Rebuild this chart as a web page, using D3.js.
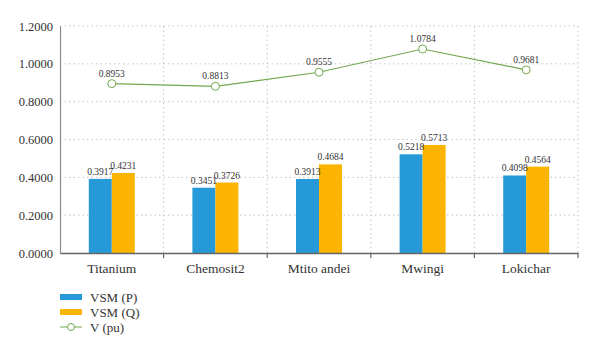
<!DOCTYPE html>
<html>
<head>
<meta charset="utf-8">
<script src="https://cdn.jsdelivr.net/npm/d3@7"></script>
<style>
  html, body { margin: 0; padding: 0; background: #fff; }
  svg { display: block; }
  svg text { font-family: "Liberation Serif", "DejaVu Serif", serif; }
</style>
</head>
<body>
<svg id="chart" width="600" height="356"></svg>
<script>
const categories = ["Titanium", "Chemosit2", "Mtito andei", "Mwingi", "Lokichar"];
const vsmP = [0.3917, 0.3451, 0.3913, 0.5218, 0.4098];
const vsmQ = [0.4231, 0.3726, 0.4684, 0.5713, 0.4564];
const vPu = [0.8953, 0.8813, 0.9555, 1.0784, 0.9681];
const yTicks = [0, 0.2, 0.4, 0.6, 0.8, 1.0, 1.2];
const seriesNames = ["VSM (P)", "VSM (Q)", "V (pu)"];

(function () {
const colors = { p: "#2699d8", q: "#fbb400", v: "#72a84f" };

const svg = d3.select("#chart");
const pLeft = 60, pRight = 578, pTop = 26, pBottom = 253;

const x = d3.scaleBand().domain(categories).range([pLeft, pRight]).paddingInner(0).paddingOuter(0);
const y = d3.scaleLinear().domain([0, 1.2]).range([pBottom, pTop]);
const barW = 23;

svg.append("g").selectAll("line").data(yTicks.slice(1)).join("line")
  .attr("x1", pLeft).attr("x2", pRight)
  .attr("y1", d => y(d)).attr("y2", d => y(d))
  .attr("stroke", "#c4c4c4").attr("stroke-width", 1).attr("stroke-dasharray", "1.5,3");

const bounds = categories.slice(1).map(c => x(c)).concat([pRight]);
svg.append("g").selectAll("line").data(bounds).join("line")
  .attr("x1", d => d).attr("x2", d => d)
  .attr("y1", pTop).attr("y2", pBottom)
  .attr("stroke", "#c4c4c4").attr("stroke-width", 1).attr("stroke-dasharray", "1.5,3");

const yAxis = svg.append("g").attr("transform", `translate(${pLeft},0)`)
  .call(d3.axisLeft(y).tickValues(yTicks).tickFormat(d3.format(".4f")).tickSize(0).tickPadding(7));
yAxis.attr("font-family", null);
yAxis.select(".domain").attr("stroke", "#8a8a8a").attr("stroke-width", 1.2);
yAxis.selectAll("text").attr("font-size", 12.5).attr("fill", "#333");

const g = svg.append("g");
g.selectAll("rect.p").data(categories).join("rect").attr("class", "p")
  .attr("x", d => x(d) + x.bandwidth() / 2 - barW)
  .attr("width", barW)
  .attr("y", (d, i) => y(vsmP[i]))
  .attr("height", (d, i) => y(0) - y(vsmP[i]))
  .attr("fill", colors.p);
g.selectAll("rect.q").data(categories).join("rect").attr("class", "q")
  .attr("x", d => x(d) + x.bandwidth() / 2)
  .attr("width", barW)
  .attr("y", (d, i) => y(vsmQ[i]))
  .attr("height", (d, i) => y(0) - y(vsmQ[i]))
  .attr("fill", colors.q);

g.selectAll("text.pl").data(categories).join("text").attr("class", "pl")
  .attr("x", d => x(d) + x.bandwidth() / 2 - barW / 2)
  .attr("y", (d, i) => y(vsmP[i]) - 4)
  .attr("text-anchor", "middle").attr("font-size", 9.5).attr("fill", "#333")
  .text((d, i) => vsmP[i].toFixed(4));
g.selectAll("text.ql").data(categories).join("text").attr("class", "ql")
  .attr("x", d => x(d) + x.bandwidth() / 2 + barW / 2)
  .attr("y", (d, i) => y(vsmQ[i]) - 4)
  .attr("text-anchor", "middle").attr("font-size", 9.5).attr("fill", "#333")
  .text((d, i) => vsmQ[i].toFixed(4));

const xAxis = svg.append("g").attr("transform", `translate(0,${pBottom})`)
  .call(d3.axisBottom(x).tickSize(0).tickPadding(10));
xAxis.attr("font-family", null);
xAxis.select(".domain").attr("stroke", "#666").attr("stroke-width", 1.5);
xAxis.selectAll("text").attr("font-size", 13.5).attr("fill", "#333");
svg.append("g").selectAll("line").data(bounds).join("line")
  .attr("x1", d => d).attr("x2", d => d)
  .attr("y1", pBottom).attr("y2", pBottom + 5)
  .attr("stroke", "#666").attr("stroke-width", 1.2);

const line = d3.line()
  .x((d, i) => x(categories[i]) + x.bandwidth() / 2)
  .y(d => y(d));
svg.append("path").datum(vPu).attr("d", line)
  .attr("fill", "none").attr("stroke", colors.v).attr("stroke-width", 1.2);
svg.append("g").selectAll("circle").data(vPu).join("circle")
  .attr("cx", (d, i) => x(categories[i]) + x.bandwidth() / 2)
  .attr("cy", d => y(d))
  .attr("r", 4)
  .attr("fill", "#fff").attr("stroke", colors.v).attr("stroke-width", 1);
svg.append("g").selectAll("text").data(vPu).join("text")
  .attr("x", (d, i) => x(categories[i]) + x.bandwidth() / 2)
  .attr("y", d => y(d) - 7)
  .attr("text-anchor", "middle").attr("font-size", 9.5).attr("fill", "#333")
  .text(d => d.toFixed(4));

const legY = [297, 312, 327];
const leg = svg.append("g");
leg.append("rect").attr("x", 60).attr("y", legY[0] - 3).attr("width", 22).attr("height", 6).attr("fill", colors.p);
leg.append("rect").attr("x", 60).attr("y", legY[1] - 3).attr("width", 22).attr("height", 6).attr("fill", colors.q);
leg.append("line").attr("x1", 60).attr("x2", 82).attr("y1", legY[2]).attr("y2", legY[2])
  .attr("stroke", colors.v).attr("stroke-width", 1);
leg.append("circle").attr("cx", 71).attr("cy", legY[2]).attr("r", 3.5)
  .attr("fill", "#fff").attr("stroke", colors.v).attr("stroke-width", 1);
leg.selectAll("text").data(seriesNames).join("text")
  .attr("x", 90).attr("y", (d, i) => legY[i])
  .attr("dy", "0.35em").attr("font-size", 13).attr("fill", "#333")
  .text(d => d);
})();
</script>
</body>
</html>
